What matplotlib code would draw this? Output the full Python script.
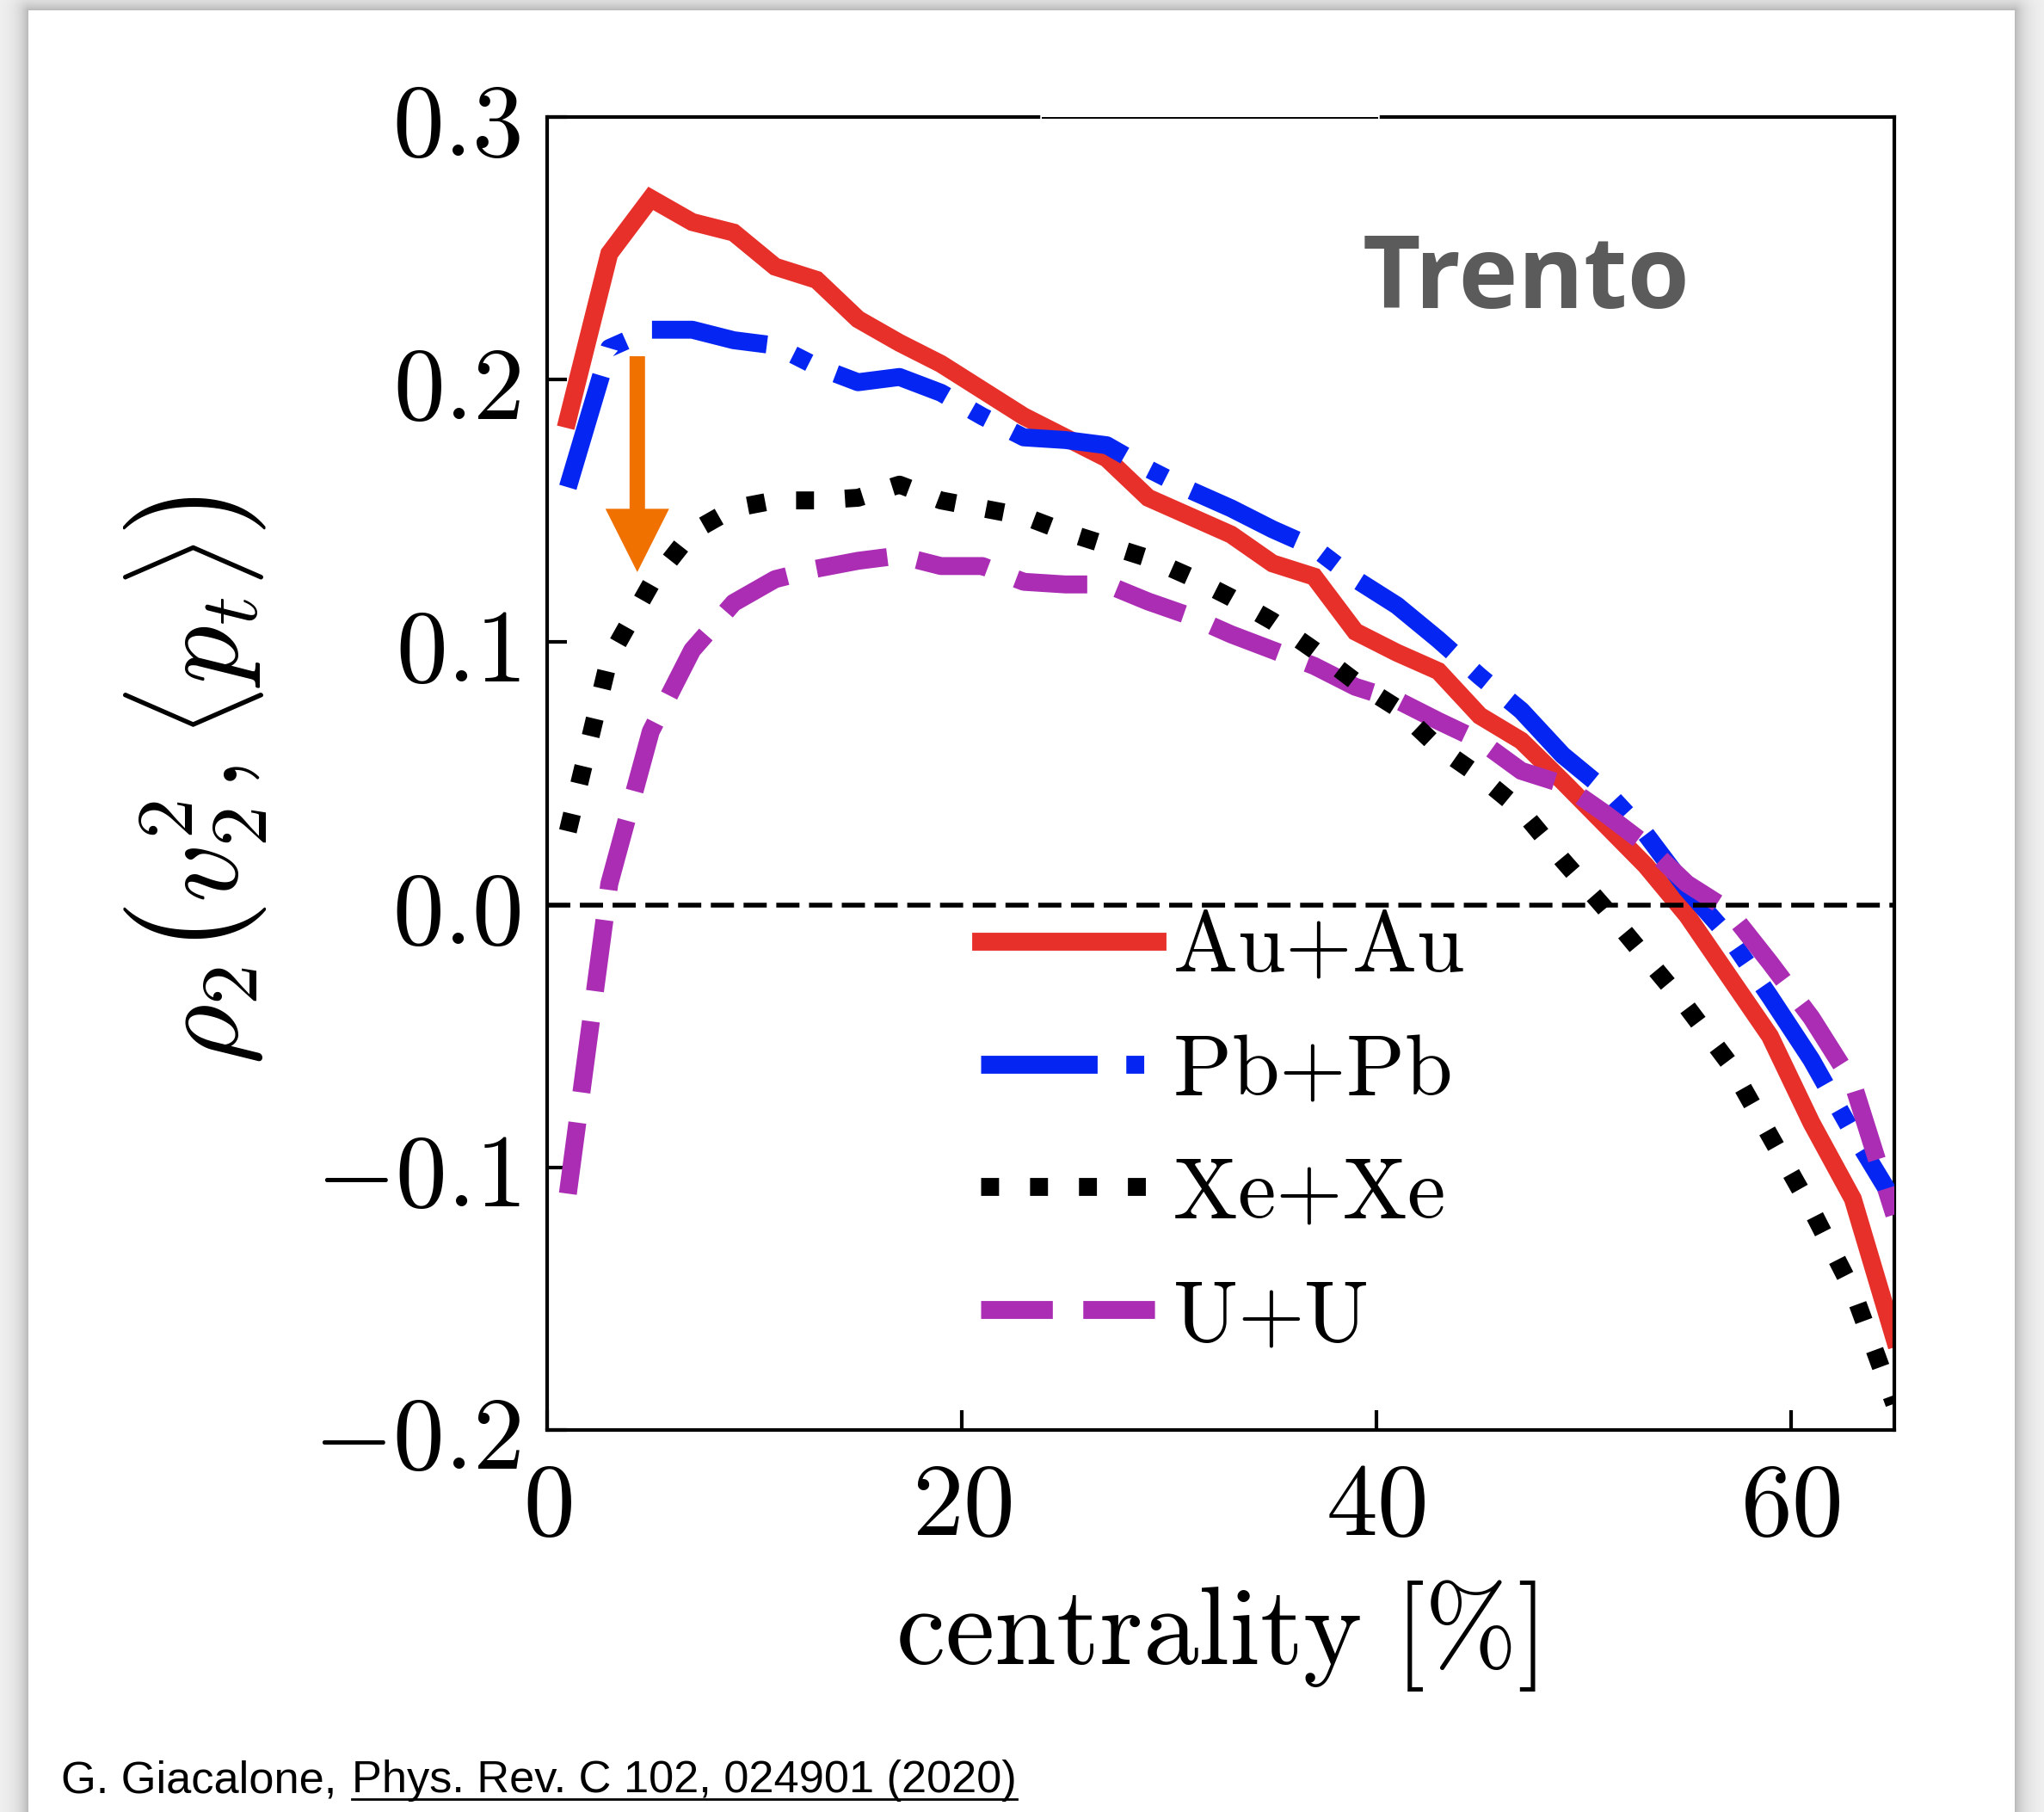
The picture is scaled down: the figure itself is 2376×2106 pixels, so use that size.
import numpy as np
import matplotlib.pyplot as plt
from matplotlib.lines import Line2D
from matplotlib.patches import FancyArrow

plt.rcParams['mathtext.fontset'] = 'cm'
plt.rcParams['font.family'] = ['DejaVu Serif']

# centrality bin midpoints (%)
centrality = [1, 3, 5, 7, 9, 11, 13, 15, 17, 19, 21, 23, 25, 27, 29, 31, 33,
              35, 37, 39, 41, 43, 45, 47, 49, 51, 53, 55, 57, 59, 61, 63, 65]

rho_auau = [0.185, 0.248, 0.269, 0.260, 0.256, 0.243, 0.238, 0.223, 0.214, 0.206, 0.196,
            0.186, 0.178, 0.170, 0.155, 0.148, 0.141, 0.130, 0.125, 0.104, 0.096, 0.089,
            0.072, 0.0625, 0.047, 0.031, 0.015, -0.004, -0.027, -0.050, -0.083, -0.112, -0.165]
rho_pbpb = [0.159, 0.212, 0.219, 0.219, 0.215, 0.213, 0.205, 0.199, 0.201, 0.195, 0.186,
            0.178, 0.177, 0.175, 0.166, 0.158, 0.151, 0.143, 0.136, 0.124, 0.114, 0.101,
            0.087, 0.074, 0.057, 0.044, 0.027, 0.006, -0.012, -0.035, -0.059, -0.087, -0.113]
rho_xexe = [0.028, 0.094, 0.122, 0.142, 0.151, 0.154, 0.154, 0.155, 0.160, 0.154, 0.151,
            0.148, 0.142, 0.137, 0.132, 0.125, 0.117, 0.108, 0.097, 0.085, 0.075, 0.060,
            0.049, 0.036, 0.017, -0.001, -0.020, -0.039, -0.060, -0.088, -0.116, -0.147, -0.190]
rho_uu = [-0.110, 0.008, 0.066, 0.097, 0.115, 0.124, 0.128, 0.131, 0.133, 0.129, 0.129,
          0.123, 0.122, 0.122, 0.1155, 0.110, 0.103, 0.097, 0.091, 0.083, 0.078, 0.070,
          0.0625, 0.051, 0.046, 0.035, 0.023, 0.008, -0.002, -0.022, -0.043, -0.068, -0.118]

labels = [r'$\mathrm{Au}{+}\mathrm{Au}$', r'$\mathrm{Pb}{+}\mathrm{Pb}$',
          r'$\mathrm{Xe}{+}\mathrm{Xe}$', r'$\mathrm{U}{+}\mathrm{U}$']
xticks = [0, 20, 40, 60]
xticklabels = [r'$0$', r'$20$', r'$40$', r'$60$']
yticks = [-0.2, -0.1, 0.0, 0.1, 0.2, 0.3]
yticklabels = [r'$-0.2$', r'$-0.1$', r'$0.0$', r'$0.1$', r'$0.2$', r'$0.3$']

W, H = 2376, 2106
fig = plt.figure(figsize=(W / 100, H / 100), dpi=100)

# slide background with soft shadow around the white card
bg = fig.add_axes([0, 0, 1, 1], zorder=-10)
bg.axis('off')
X, Y = np.meshgrid(np.arange(W), np.arange(H))
dx = np.maximum(np.maximum(33 - X, X - 2341), 0)
dy = np.maximum(12 - Y, 0)
d = np.hypot(dx, dy)
img = np.where(d > 0, 0.95 - 0.24 * np.exp(-d / 12.0), 1.0)
bg.imshow(img, cmap='gray', vmin=0, vmax=1, extent=[0, W, H, 0], aspect='auto',
          interpolation='bilinear')
bg.set_xlim(0, W)
bg.set_ylim(H, 0)

ax = fig.add_axes([636 / W, 1 - 1662 / H, 1566 / W, 1526 / H])
ax.set_facecolor('white')

lw = 15
ax.plot(centrality, rho_auau, color='#e8302a', lw=lw, solid_joinstyle='miter',
        label=labels[0], zorder=2)
ax.plot(centrality, rho_pbpb, color='#0526f2', lw=lw, dashes=(6.5, 1.6, 1.0, 1.6),
        label=labels[1], zorder=3)
ax.plot(centrality, rho_xexe, color='black', lw=lw, dashes=(1.0, 1.73),
        label=labels[2], zorder=5)
ax.plot(centrality, rho_uu, color='#aa2db4', lw=lw, dashes=(4.0, 1.7),
        label=labels[3], zorder=4)

ax.axhline(0.0, color='black', lw=4, dashes=(4.85, 2.0), zorder=6)

ax.add_patch(FancyArrow(4.35, 0.2089, 0, 0.1267 - 0.2089, width=0.745, head_width=3.07,
                        head_length=0.0241, length_includes_head=True,
                        color='#f07000', lw=0, zorder=7))

ax.set_xlim(0, 65)
ax.set_ylim(-0.2, 0.3)
ax.set_xticks(xticks)
ax.set_xticklabels(xticklabels)
ax.set_yticks(yticks)
ax.set_yticklabels(yticklabels)
ax.tick_params(direction='in', length=16.5, width=3, labelsize=86, pad=22,
               top=False, right=False)
for s in ax.spines.values():
    s.set_linewidth(3)

leg = ax.legend(loc='center left', bbox_to_anchor=(1140 / W, 1 - 1316 / H),
                bbox_transform=fig.transFigure, frameon=False, fontsize=72,
                handlelength=2.05, handletextpad=0.18, labelspacing=0.47,
                borderpad=0, borderaxespad=0)

fig.text(228 / W, 1 - 907 / H, r'$\rho_2\left(v_2^2,\langle p_t\rangle\right)$',
         rotation=90, ha='center', va='center', fontsize=97)
fig.text(1413 / W, 1 - 1901 / H, r'$\mathrm{centrality}\ [\%]$',
         ha='center', va='center', fontsize=93)

fig.text(1584 / W, 1 - 358 / H, 'Trento', family='Open Sans', weight='bold',
         fontsize=84, color='#5b5b5b', ha='left', va='baseline')

# top spine is partly whitened in the source figure
fig.add_artist(Line2D([1212 / W, 1601 / W], [1 - 136 / H, 1 - 136 / H],
                      color='white', lw=4, zorder=20))
fig.add_artist(Line2D([1212 / W, 1601 / W], [1 - 137 / H, 1 - 137 / H],
                      color='black', lw=1.4, zorder=21))

# reference line at the bottom
fig.canvas.draw()
r = fig.canvas.get_renderer()
t1 = fig.text(71 / W, 1 - 2083 / H, 'G. Giacalone, ', family='Liberation Sans',
              fontsize=37.7, ha='left', va='baseline', color='black')
t2 = fig.text(409 / W, 1 - 2083 / H, 'Phys. Rev. C 102, 024901 (2020)',
              family='Liberation Sans', fontsize=37.7, ha='left', va='baseline',
              color='black')
bb = t2.get_window_extent(r)
fig.add_artist(Line2D([bb.x0 / W, bb.x1 / W], [1 - 2091 / H, 1 - 2091 / H],
                      color='black', lw=2))

fig.savefig('out.png', dpi=100)
